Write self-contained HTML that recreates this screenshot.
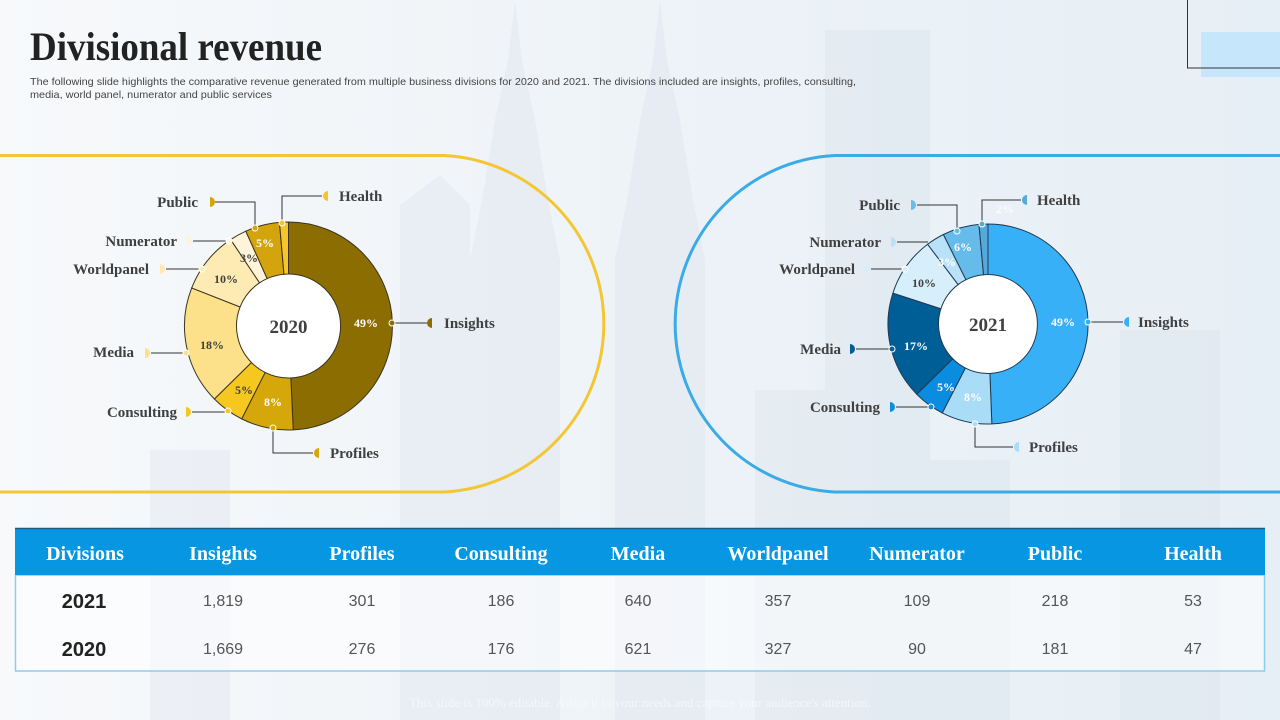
<!DOCTYPE html>
<html><head><meta charset="utf-8"><style>
html,body{margin:0;padding:0;width:1280px;height:720px;overflow:hidden;}
body{background:linear-gradient(90deg,#f7f9fb 0%,#f0f4f8 40%,#eaf1f7 70%,#e7eff6 100%);}
svg{display:block;}
.lbl{font-family:"Liberation Serif",serif;font-weight:bold;font-size:15px;fill:#404040;}
.pct{font-family:"Liberation Serif",serif;font-weight:bold;font-size:12px;text-anchor:middle;}
.hd{font-family:"Liberation Serif",serif;font-weight:bold;font-size:20px;fill:#fff;text-anchor:middle;}
.yr{font-family:"Liberation Sans",sans-serif;font-weight:bold;font-size:20px;fill:#222;text-anchor:middle;}
.val{font-family:"Liberation Sans",sans-serif;font-size:16px;fill:#555;text-anchor:middle;}
</style></head><body>
<svg width="1280" height="720" viewBox="0 0 1280 720" xmlns="http://www.w3.org/2000/svg">
<!-- faint background buildings -->
<g fill="#cdd8e2" opacity="0.22">
<polygon points="515,0 522,60 535,120 548,200 560,260 560,720 470,720 470,260 482,200 495,120 508,60"/>
<polygon points="660,0 667,60 680,120 693,200 705,260 705,720 615,720 615,260 627,200 640,120 653,60"/>
<rect x="825" y="30" width="105" height="690"/>
<polygon points="400,205 440,175 470,205 470,720 400,720"/>
<rect x="1120" y="330" width="100" height="390"/>
<rect x="150" y="450" width="80" height="270"/>
<rect x="930" y="460" width="80" height="260"/>
<rect x="755" y="390" width="70" height="330"/>
</g>
<!-- top right decoration -->
<rect x="1201" y="32" width="90" height="45" fill="#c6e7fb"/>
<rect x="1187.5" y="-1" width="100" height="69" fill="none" stroke="#333" stroke-width="1"/>
<!-- title -->
<text x="30" y="60" font-family="Liberation Serif, serif" font-weight="bold" font-size="40" fill="#222" textLength="292" lengthAdjust="spacingAndGlyphs">Divisional revenue</text>
<text x="30" y="85" font-family="Liberation Sans, sans-serif" font-size="10.5" fill="#444" textLength="826" lengthAdjust="spacingAndGlyphs">The following slide highlights the comparative revenue generated from multiple  business divisions for 2020 and 2021. The divisions included  are insights,  profiles, consulting,</text>
<text x="30" y="98" font-family="Liberation Sans, sans-serif" font-size="10.5" fill="#444" textLength="242" lengthAdjust="spacingAndGlyphs">media,  world panel, numerator and public services</text>

<!-- stadium outlines -->
<path d="M -5 155.5 L 444.5 155.5 A 168.5 168.5 0 0 1 444.5 492 L -5 492" fill="none" stroke="#f2c733" stroke-width="3"/>
<path d="M 1285 155.5 L 834.5 155.5 A 168.5 168.5 0 0 0 834.5 492 L 1285 492" fill="none" stroke="#3aabe7" stroke-width="3"/>

<!-- 2020 donut -->
<circle cx="288.5" cy="326" r="52" fill="#fff"/>
<g stroke="#3b3420" stroke-width="1">
<path d="M288.5,222 A104,104 0 0 1 293.22,429.89 L290.86,377.95 A52,52 0 0 0 288.5,274 Z" fill="#8b6d02"/>
<path d="M293.22,429.89 A104,104 0 0 1 241.72,418.88 L265.11,372.44 A52,52 0 0 0 290.86,377.95 Z" fill="#d6a70a"/>
<path d="M241.72,418.88 A104,104 0 0 1 214.39,398.97 L251.45,362.48 A52,52 0 0 0 265.11,372.44 Z" fill="#f6c71f"/>
<path d="M214.39,398.97 A104,104 0 0 1 191.70,287.96 L240.10,306.98 A52,52 0 0 0 251.45,362.48 Z" fill="#fde08a"/>
<path d="M191.70,287.96 A104,104 0 0 1 230.64,239.58 L259.57,282.79 A52,52 0 0 0 240.10,306.98 Z" fill="#feebb3"/>
<path d="M230.64,239.58 A104,104 0 0 1 245.80,231.17 L267.15,278.59 A52,52 0 0 0 259.57,282.79 Z" fill="#fff3da"/>
<path d="M245.80,231.17 A104,104 0 0 1 279.44,222.40 L283.97,274.20 A52,52 0 0 0 267.15,278.59 Z" fill="#d4a40c"/>
<path d="M279.44,222.40 A104,104 0 0 1 288.5,222 L288.5,274 A52,52 0 0 0 283.97,274.20 Z" fill="#f5c52a"/>
</g>
<text x="288.5" y="333" text-anchor="middle" font-family="Liberation Serif, serif" font-weight="bold" font-size="19" fill="#404040">2020</text>
<text class="pct" x="366" y="327" fill="#fff">49%</text>
<text class="pct" x="273" y="406" fill="#fff">8%</text>
<text class="pct" x="244" y="394" fill="#404040">5%</text>
<text class="pct" x="212" y="349" fill="#404040">18%</text>
<text class="pct" x="226" y="283" fill="#404040">10%</text>
<text class="pct" x="249" y="262" fill="#404040">3%</text>
<text class="pct" x="265" y="247" fill="#fff">5%</text>
<!-- 2020 leaders -->
<g fill="none" stroke="#333" stroke-width="1">
<polyline points="215,202 255,202 255,226"/>
<polyline points="322,196 282,196 282,221"/>
<polyline points="193,241 227,241"/>
<polyline points="166,269 200,269"/>
<polyline points="151,353 184,353"/>
<polyline points="192,412 226,412"/>
<polyline points="273,431 273,453 313,453"/>
<polyline points="395,323 427,323"/>
</g>
<g stroke="#fff" stroke-width="1">
<circle cx="255" cy="228" r="3" fill="#d4a40c"/>
<circle cx="282" cy="223" r="3" fill="#f5c52a"/>
<circle cx="229" cy="241" r="3" fill="#fff3da"/>
<circle cx="202" cy="269" r="3" fill="#feebb3"/>
<circle cx="186" cy="353" r="3" fill="#fde08a"/>
<circle cx="228" cy="411" r="3" fill="#f6c71f"/>
<circle cx="273" cy="428" r="3" fill="#d6a70a"/>
<circle cx="392" cy="323" r="3" fill="#8b6d02"/>
</g>
<!-- 2020 markers -->
<path d="M210,197 A5,5 0 0 1 210,207 Z" fill="#d4a40c"/>
<path d="M328,191 A5,5 0 0 0 328,201 Z" fill="#f5c52a"/>
<path d="M187,236 A5,5 0 0 1 187,246 Z" fill="#fff3da"/>
<path d="M160,264 A5,5 0 0 1 160,274 Z" fill="#feebb3"/>
<path d="M145,348 A5,5 0 0 1 145,358 Z" fill="#fde08a"/>
<path d="M186,407 A5,5 0 0 1 186,417 Z" fill="#f6c71f"/>
<path d="M319,448 A5,5 0 0 0 319,458 Z" fill="#d6a70a"/>
<path d="M432,318 A5,5 0 0 0 432,328 Z" fill="#8b6d02"/>
<!-- 2020 labels -->
<text class="lbl" x="198" y="207" text-anchor="end">Public</text>
<text class="lbl" x="339" y="201">Health</text>
<text class="lbl" x="177" y="246" text-anchor="end">Numerator</text>
<text class="lbl" x="149" y="274" text-anchor="end">Worldpanel</text>
<text class="lbl" x="134" y="357" text-anchor="end">Media</text>
<text class="lbl" x="177" y="417" text-anchor="end">Consulting</text>
<text class="lbl" x="330" y="458">Profiles</text>
<text class="lbl" x="444" y="328">Insights</text>

<!-- 2021 donut -->
<circle cx="988" cy="324" r="49.5" fill="#fff"/>
<g stroke="#1f3a52" stroke-width="1">
<path d="M988,224 A100,100 0 0 1 991.84,423.93 L989.90,373.46 A49.5,49.5 0 0 0 988,274.5 Z" fill="#38b0f7"/>
<path d="M991.84,423.93 A100,100 0 0 1 942.26,412.92 L965.36,368.02 A49.5,49.5 0 0 0 989.90,373.46 Z" fill="#a8dcf7"/>
<path d="M942.26,412.92 A100,100 0 0 1 916.79,394.22 L952.75,358.76 A49.5,49.5 0 0 0 965.36,368.02 Z" fill="#0a8de0"/>
<path d="M916.79,394.22 A100,100 0 0 1 892.87,293.16 L940.91,308.74 A49.5,49.5 0 0 0 952.75,358.76 Z" fill="#005e96"/>
<path d="M892.87,293.16 A100,100 0 0 1 927.62,244.28 L958.11,284.54 A49.5,49.5 0 0 0 940.91,308.74 Z" fill="#d7eefb"/>
<path d="M927.62,244.28 A100,100 0 0 1 943.40,234.50 L965.92,279.70 A49.5,49.5 0 0 0 958.11,284.54 Z" fill="#b9e2f8"/>
<path d="M943.40,234.50 A100,100 0 0 1 978.97,224.41 L983.53,274.70 A49.5,49.5 0 0 0 965.92,279.70 Z" fill="#65bbea"/>
<path d="M978.97,224.41 A100,100 0 0 1 988,224 L988,274.5 A49.5,49.5 0 0 0 983.53,274.70 Z" fill="#55a8d8"/>
</g>
<text x="988" y="331" text-anchor="middle" font-family="Liberation Serif, serif" font-weight="bold" font-size="19" fill="#404040">2021</text>
<text class="pct" x="1063" y="326" fill="#fff">49%</text>
<text class="pct" x="973" y="401" fill="#fff">8%</text>
<text class="pct" x="946" y="391" fill="#fff">5%</text>
<text class="pct" x="916" y="350" fill="#fff">17%</text>
<text class="pct" x="924" y="287" fill="#404040">10%</text>
<text class="pct" x="947" y="266" fill="#fff">3%</text>
<text class="pct" x="963" y="251" fill="#fff">6%</text>
<text class="pct" x="1005" y="213" fill="#fff" opacity="0.8">2%</text>
<!-- 2021 leaders -->
<g fill="none" stroke="#333" stroke-width="1">
<polyline points="917,205 957,205 957,229"/>
<polyline points="1021,200 982,200 982,222"/>
<polyline points="897,242 928,242"/>
<polyline points="871,269 904,269"/>
<polyline points="856,349 890,349"/>
<polyline points="896,407 929,407"/>
<polyline points="975,427 975,447 1013,447"/>
<polyline points="1091,322 1123,322"/>
</g>
<g stroke="#fff" stroke-width="1">
<circle cx="957" cy="231" r="3" fill="#65bbea"/>
<circle cx="982" cy="224" r="3" fill="#55a8d8"/>
<circle cx="905" cy="269" r="3" fill="#d7eefb"/>
<circle cx="892" cy="349" r="3" fill="#005e96"/>
<circle cx="931" cy="407" r="3" fill="#0a8de0"/>
<circle cx="975" cy="424" r="3" fill="#a8dcf7"/>
<circle cx="1088" cy="322" r="3" fill="#38b0f7"/>
</g>
<!-- 2021 markers -->
<path d="M911,200 A5,5 0 0 1 911,210 Z" fill="#65bbea"/>
<path d="M1027,195 A5,5 0 0 0 1027,205 Z" fill="#55a8d8"/>
<path d="M891,237 A5,5 0 0 1 891,247 Z" fill="#b9e2f8"/>
<path d="M865,264 A5,5 0 0 1 865,274 Z" fill="#d7eefb"/>
<path d="M850,344 A5,5 0 0 1 850,354 Z" fill="#005e96"/>
<path d="M890,402 A5,5 0 0 1 890,412 Z" fill="#0a8de0"/>
<path d="M1019,442 A5,5 0 0 0 1019,452 Z" fill="#a8dcf7"/>
<path d="M1129,317 A5,5 0 0 0 1129,327 Z" fill="#38b0f7"/>
<!-- 2021 labels -->
<text class="lbl" x="900" y="210" text-anchor="end">Public</text>
<text class="lbl" x="1037" y="205">Health</text>
<text class="lbl" x="881" y="247" text-anchor="end">Numerator</text>
<text class="lbl" x="855" y="274" text-anchor="end">Worldpanel</text>
<text class="lbl" x="841" y="354" text-anchor="end">Media</text>
<text class="lbl" x="880" y="412" text-anchor="end">Consulting</text>
<text class="lbl" x="1029" y="452">Profiles</text>
<text class="lbl" x="1138" y="327">Insights</text>

<!-- table -->
<rect x="15.5" y="575" width="1249" height="96" fill="#ffffff" fill-opacity="0.55" stroke="#8ccdee" stroke-width="1.5"/>
<rect x="15" y="528" width="1250" height="47" fill="#0796e2"/>
<line x1="15" y1="528.5" x2="1265" y2="528.5" stroke="#1d5a86" stroke-width="1.5"/>
<text class="hd" x="85" y="560">Divisions</text>
<text class="hd" x="223" y="560">Insights</text>
<text class="hd" x="362" y="560">Profiles</text>
<text class="hd" x="501" y="560">Consulting</text>
<text class="hd" x="638" y="560">Media</text>
<text class="hd" x="778" y="560">Worldpanel</text>
<text class="hd" x="917" y="560">Numerator</text>
<text class="hd" x="1055" y="560">Public</text>
<text class="hd" x="1193" y="560">Health</text>

<text class="yr" x="84" y="608">2021</text>
<text class="val" x="223" y="606">1,819</text>
<text class="val" x="362" y="606">301</text>
<text class="val" x="501" y="606">186</text>
<text class="val" x="638" y="606">640</text>
<text class="val" x="778" y="606">357</text>
<text class="val" x="917" y="606">109</text>
<text class="val" x="1055" y="606">218</text>
<text class="val" x="1193" y="606">53</text>

<text class="yr" x="84" y="656">2020</text>
<text class="val" x="223" y="654">1,669</text>
<text class="val" x="362" y="654">276</text>
<text class="val" x="501" y="654">176</text>
<text class="val" x="638" y="654">621</text>
<text class="val" x="778" y="654">327</text>
<text class="val" x="917" y="654">90</text>
<text class="val" x="1055" y="654">181</text>
<text class="val" x="1193" y="654">47</text>

<text x="640" y="707" text-anchor="middle" font-family="Liberation Serif, serif" font-size="13" fill="#ffffff" opacity="0.55">This slide is 100% editable. Adapt it to your needs and capture your audience's attention.</text>
</svg>
</body></html>
